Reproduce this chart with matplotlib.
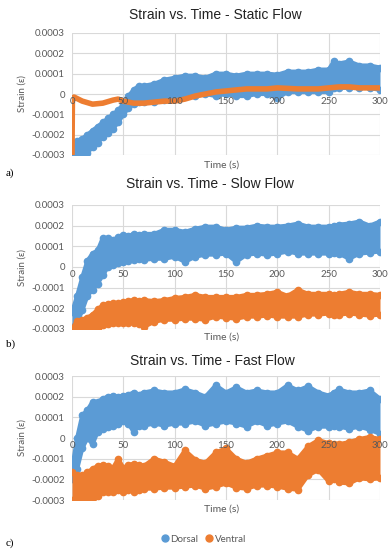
import matplotlib
matplotlib.use("Agg")
import matplotlib.pyplot as plt
import numpy as np

# strain values in units of 1e-4, read as lower / upper envelope of the noisy bands
t = [0, 5, 10, 15, 20, 25, 30, 35, 40, 45, 50, 55, 60, 65, 70, 80, 90, 100,
     110, 120, 130, 140, 150, 160, 170, 180, 190, 200, 210, 220, 230, 240,
     250, 255, 260, 270, 280, 290, 300]

# a) static flow
dorsal_a_lo = [-3.0, -3.0, -3.0, -2.9, -2.6, -2.4, -2.1, -1.9, -1.7, -1.4, -1.0, -0.7, -0.5, -0.4, -0.4,
               -0.4, -0.3, -0.2, -0.1, -0.1, 0.0, -0.1, 0.0, -0.1, -0.1, 0.0, 0.0, -0.2, 0.1, 0.1,
               0.1, 0.1, 0.1, 0.3, 0.3, 0.3, 0.3, 0.3, 0.2]
dorsal_a_hi = [-2.4, -2.3, -2.2, -2.0, -1.8, -1.6, -1.4, -1.2, -1.0, -0.8, -0.5, -0.1, 0.2, 0.4, 0.4,
               0.5, 0.7, 0.8, 0.9, 0.9, 0.8, 1.0, 1.0, 0.9, 1.0, 1.0, 1.0, 0.95, 1.1, 1.1,
               1.1, 1.2, 1.2, 1.6, 1.5, 1.6, 1.4, 1.4, 1.3]
ventral_a_t = [0, 0.4, 2, 10, 20, 30, 40, 45, 50, 60, 70, 80, 90, 100, 110, 120, 130, 140,
               150, 160, 170, 180, 190, 200, 220, 240, 250, 260, 270, 280, 290, 300]
ventral_a = [-3.0, -0.2, -0.15, -0.35, -0.5, -0.45, -0.3, -0.25, -0.35, -0.45, -0.45, -0.4, -0.35, -0.35,
             -0.25, -0.1, 0.0, 0.1, 0.15, 0.2, 0.25, 0.25, 0.25, 0.3, 0.25, 0.25, 0.3, 0.35, 0.35,
             0.3, 0.3, 0.3]

# b) slow flow
dorsal_b_lo = [-2.9, -2.7, -2.1, -1.4, -1.1, -0.8, -0.4, 0.0, 0.1, 0.2, 0.25, 0.3, 0.35, 0.4, 0.35,
               0.4, 0.4, 0.5, 0.25, 0.5, 0.6, 0.6, 0.65, 0.25, 0.6, 0.65, 0.6, 0.65, 0.75, 0.65,
               0.65, 0.65, 0.65, 0.7, 0.65, 0.4, 0.65, 0.7, 0.75]
dorsal_b_hi = [-2.2, -1.4, -0.5, 0.3, 0.65, 0.8, 1.4, 1.4, 1.3, 1.45, 1.55, 1.5, 1.6, 1.55, 1.6,
               1.6, 1.8, 1.8, 1.7, 1.85, 1.95, 1.95, 1.8, 1.9, 1.9, 2.0, 1.95, 1.95, 2.0, 2.1,
               1.95, 1.95, 1.95, 2.0, 2.05, 2.1, 2.2, 2.0, 2.2]
ventral_b_lo = [-3.0, -3.0, -3.0, -3.0, -3.0, -2.95, -2.8, -2.75, -2.7, -2.7, -2.7, -2.7, -2.7, -2.75, -2.9,
                -2.65, -2.55, -2.55, -2.5, -2.5, -2.55, -2.4, -2.45, -2.5, -2.4, -2.4, -2.35, -2.4, -2.4, -2.4,
                -2.3, -2.3, -2.25, -2.3, -2.3, -2.25, -2.3, -2.35, -2.3]
ventral_b_hi = [-3.0, -2.6, -2.55, -2.45, -2.3, -2.05, -1.85, -1.8, -1.75, -1.75, -1.7, -1.65, -1.6, -1.65, -1.6,
                -1.65, -1.6, -1.5, -1.45, -1.35, -1.45, -1.45, -1.45, -1.45, -1.35, -1.35, -1.3, -1.2, -1.4, -1.1,
                -1.3, -1.3, -1.3, -1.35, -1.3, -1.2, -1.3, -1.3, -1.35]

# c) fast flow
dorsal_c_lo = [-2.0, -1.5, -0.5, 0.0, -0.3, 0.3, 0.45, 0.55, 0.6, 0.7, 0.8, 0.7, 0.3, 0.6, 0.6,
               0.7, 0.6, 0.7, 0.7, 0.8, 0.6, 0.7, 0.8, 0.7, 0.55, 0.8, 0.6, 0.7, 0.8, 0.55,
               0.35, 0.55, 0.55, 0.6, 0.55, 0.45, 0.55, 0.4, 0.2]
dorsal_c_hi = [-1.5, 0.0, 1.1, 1.35, 1.75, 1.75, 1.9, 2.0, 2.05, 2.0, 2.05, 2.1, 2.2, 2.1, 2.2,
               2.3, 2.2, 2.2, 2.35, 2.2, 2.0, 2.55, 2.2, 2.45, 2.2, 2.3, 2.2, 2.2, 2.55, 2.3,
               2.5, 2.2, 2.05, 2.2, 2.35, 2.2, 2.2, 2.3, 1.9]
ventral_c_lo = [-3.0, -3.0, -2.95, -3.0, -2.9, -2.8, -2.6, -2.6, -2.6, -2.5, -2.6, -2.5, -2.6, -2.5, -2.45,
                -2.45, -2.4, -2.4, -2.35, -2.3, -2.45, -2.35, -2.2, -2.4, -2.45, -2.3, -2.3, -2.35, -2.45, -2.5,
                -1.8, -1.55, -2.1, -2.0, -2.15, -2.2, -1.95, -2.0, -1.95]
ventral_c_hi = [-1.65, -1.8, -1.8, -1.65, -1.5, -1.35, -1.3, -1.35, -1.45, -1.0, -1.45, -1.3, -1.25, -1.3, -1.35,
                -1.0, -1.15, -1.35, -0.6, -1.05, -1.2, -0.7, -0.5, -1.0, -1.2, -1.0, -0.85, -0.7, -0.7, -1.0,
                -0.4, -0.1, -0.25, -0.3, -0.3, -0.2, -0.05, 0.05, -0.05]

titles = ["Strain vs. Time - Static Flow", "Strain vs. Time - Slow Flow", "Strain vs. Time - Fast Flow"]
panel_labels = ["a)", "b)", "c)"]
yticks = [-3, -2, -1, 0, 1, 2, 3]
xticks = [0, 50, 100, 150, 200, 250, 300]

blue = "#5B9BD5"
orange = "#ED7D31"
gray = "#595959"
grid_c = "#D9D9D9"

fig = plt.figure(figsize=(3.92, 5.5), dpi=100)

# axes boxes in pixels (top, bottom) of the reference
boxes = [(33, 155), (205, 329), (376, 500)]
title_y = [15, 184, 361]
title_x = [215, 210, 212]
xlabel_y = [165, 337, 509]
plab_y = [173, 344, 543]
left_px, right_px = 72, 380
W, H = 392.0, 550.0

axes = []
for i, (top, bot) in enumerate(boxes):
    ax = fig.add_axes([left_px / W, 1 - bot / H, (right_px - left_px) / W, (bot - top) / H])
    axes.append(ax)
    ax.set_xlim(0, 300)
    ax.set_ylim(-3, 3)
    ax.set_yticks(yticks)
    ax.set_yticklabels(["0" if v == 0 else "%.4f" % (v * 1e-4) for v in yticks])
    ax.set_xticks(xticks)
    for s in ["top", "right", "left"]:
        ax.spines[s].set_visible(False)
    ax.spines["bottom"].set_position(("data", 0))
    ax.spines["bottom"].set_visible(False)
    # gridlines drawn below the data, tick labels stay on top
    for y in yticks:
        ax.axhline(y, color=grid_c, lw=0.8, zorder=1)
    for x in xticks:
        ax.axvline(x, color=grid_c, lw=0.8, zorder=1)
    ax.xaxis.set_zorder(6)
    ax.yaxis.set_zorder(6)
    ax.tick_params(length=0, labelsize=7, labelcolor=gray)
    ax.tick_params(axis="y", pad=5)
    ax.tick_params(axis="x", pad=2)
    for lab in ax.get_xticklabels() + ax.get_yticklabels():
        lab.set_family("Lato")
    fig.text(title_x[i] / W, 1 - title_y[i] / H, titles[i], ha="center", va="center",
             fontsize=10, family="Liberation Sans", color="#222222")
    fig.text(222 / W, 1 - xlabel_y[i] / H, "Time (s)", ha="center", va="center",
             fontsize=7.5, family="Lato", color=gray)
    fig.text(22 / W, 1 - (top + bot) / 2 / H, "Strain (ε)", ha="center", va="center",
             rotation=90, fontsize=7, family="Lato", color=gray)
    fig.text(6 / W, 1 - plab_y[i] / H, panel_labels[i], ha="left", va="center",
             fontsize=8, family="Liberation Serif", color="black")


def band(ax, lo, hi, color):
    ax.fill_between(t, lo, hi, color=color, linewidth=0, zorder=3)
    for edge in (lo, hi):
        ax.plot(t, edge, color=color, lw=3.0, marker="o", markersize=4.5,
                solid_joinstyle="round", solid_capstyle="round", zorder=3)


band(axes[0], dorsal_a_lo, dorsal_a_hi, blue)
axes[0].plot(ventral_a_t, ventral_a, color=orange, lw=4, solid_joinstyle="round",
             solid_capstyle="round", zorder=4)

band(axes[1], dorsal_b_lo, dorsal_b_hi, blue)
band(axes[1], ventral_b_lo, ventral_b_hi, orange)

band(axes[2], dorsal_c_lo, dorsal_c_hi, blue)
band(axes[2], ventral_c_lo, ventral_c_hi, orange)

# legend
h1 = plt.Line2D([], [], color=blue, marker="o", linestyle="none", markersize=5)
h2 = plt.Line2D([], [], color=orange, marker="o", linestyle="none", markersize=5)
leg = fig.legend([h1, h2], ["Dorsal", "Ventral"], loc="center", bbox_to_anchor=(203 / W, 1 - 539 / H),
                 ncol=2, frameon=False, handletextpad=0.1, columnspacing=0.6,
                 handlelength=1.0, prop={"family": "Lato", "size": 7})
for txt in leg.get_texts():
    txt.set_color(gray)

fig.savefig("out.png", dpi=100)
